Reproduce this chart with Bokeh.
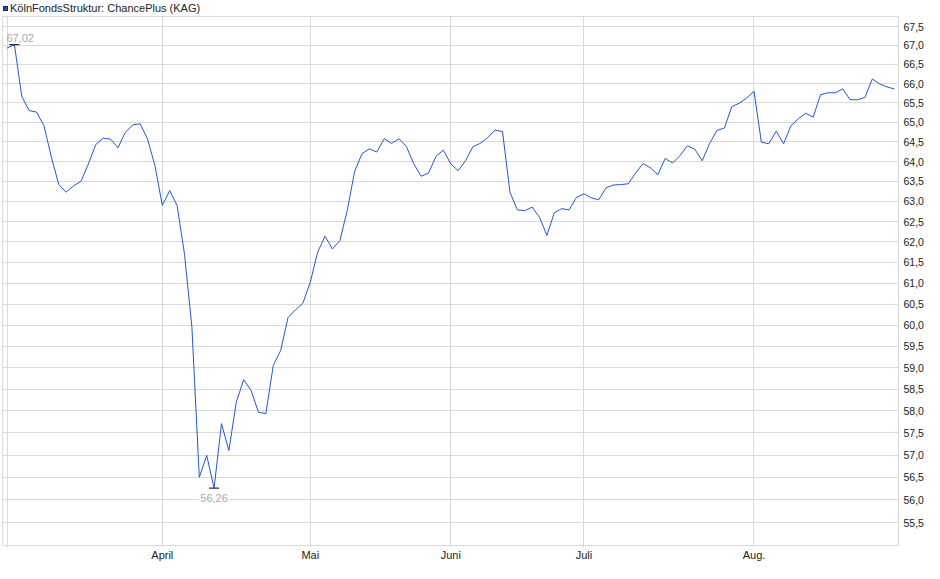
from bokeh.plotting import figure
from bokeh.models import FixedTicker, CustomJSTickFormatter, Label, Range1d, ColumnDataSource, Div
from bokeh.layouts import column
from bokeh.embed import file_html
from bokeh.resources import INLINE

# ---------------- data ----------------
series_name = "KölnFondsStruktur: ChancePlus (KAG)"

price = [
    66.93, 67.02, 65.66, 65.30, 65.26, 64.91, 64.11, 63.42, 63.23, 63.39,
    63.50, 63.94, 64.43, 64.59, 64.57, 64.35, 64.74, 64.93, 64.96, 64.57,
    63.90, 62.90, 63.27, 62.90, 61.70, 59.95, 56.50, 56.99, 56.26, 57.71,
    57.10, 58.20, 58.72, 58.47, 57.97, 57.94, 59.05, 59.40, 60.18, 60.36,
    60.52, 61.02, 61.75, 62.14, 61.83, 62.03, 62.77, 63.75, 64.20, 64.32,
    64.24, 64.58, 64.46, 64.58, 64.38, 63.94, 63.63, 63.71, 64.13, 64.29,
    63.94, 63.77, 64.02, 64.38, 64.46, 64.61, 64.80, 64.76, 63.23, 62.79,
    62.77, 62.86, 62.61, 62.16, 62.72, 62.82, 62.79, 63.10, 63.19, 63.09,
    63.04, 63.34, 63.41, 63.42, 63.44, 63.71, 63.95, 63.84, 63.67, 64.08,
    63.96, 64.15, 64.40, 64.31, 64.02, 64.46, 64.79, 64.85, 65.40, 65.49,
    65.62, 65.80, 64.49, 64.45, 64.77, 64.45, 64.91, 65.09, 65.23, 65.13,
    65.71, 65.76, 65.76, 65.86, 65.58, 65.58, 65.64, 66.12, 65.99, 65.91,
    65.86,
]
day = list(range(len(price)))  # trading-day index

month_ticks = [0, 21, 41, 60, 78, 101]
month_labels = ["", "April", "Mai", "Juni", "Juli", "Aug."]

y_ticks = [55.5, 56.0, 56.5, 57.0, 57.5, 58.0, 58.5, 59.0, 59.5, 60.0, 60.5, 61.0,
           61.5, 62.0, 62.5, 63.0, 63.5, 64.0, 64.5, 65.0, 65.5, 66.0, 66.5, 67.0, 67.5]
y_tick_labels = ["55,5", "56,0", "56,5", "57,0", "57,5", "58,0", "58,5", "59,0", "59,5",
                 "60,0", "60,5", "61,0", "61,5", "62,0", "62,5", "63,0", "63,5", "64,0",
                 "64,5", "65,0", "65,5", "66,0", "66,5", "67,0", "67,5"]

# ---------------- style ----------------
FONT = "Liberation Sans"
LINE_COLOR = "#1f5ac8"
GRID = "#d9d9d9"
W = 935
HEAD_H = 15                      # legend strip above the chart
H = 568 - HEAD_H
FRAME_L, FRAME_T, FRAME_R, FRAME_B = 2, 1, 898, 545 - HEAD_H

# legend strip (square + series name)
head = Div(text=(
    '<div style="font-family:\'Liberation Sans\';font-size:11px;color:#222222;'
    'white-space:nowrap;line-height:12px;padding:1px 0 0 3px;">'
    '<span style="display:inline-block;width:5px;height:5px;background:#1f4fa8;'
    'border:1px solid #0d2a66;margin-right:2px;vertical-align:1px;"></span>'
    f'{series_name}</div>'),
    width=W, height=HEAD_H, margin=0)

src = ColumnDataSource(dict(day=day, price=price))

p = figure(width=W, height=H, output_backend="svg", toolbar_location=None,
           y_axis_type="log", y_axis_location="right",
           x_range=Range1d(-0.61, 120.54), y_range=Range1d(55.0, 67.77),
           min_border_left=FRAME_L, min_border_top=FRAME_T,
           min_border_right=W - FRAME_R, min_border_bottom=H - FRAME_B, margin=0)
p.background_fill_color = "white"
p.border_fill_color = "white"
p.outline_line_color = GRID
p.outline_line_width = 1

# x axis (months)
p.xaxis.ticker = FixedTicker(ticks=month_ticks, minor_ticks=[])
p.xaxis.major_label_overrides = {t: l for t, l in zip(month_ticks, month_labels)}
p.xaxis.axis_line_color = None
p.xaxis.major_tick_line_color = GRID
p.xaxis.major_tick_out = 2
p.xaxis.major_tick_in = 0
p.xaxis.minor_tick_line_color = None
p.xaxis.major_label_standoff = 1
p.xaxis.major_label_text_font = FONT
p.xaxis.major_label_text_font_size = "11px"
p.xaxis.major_label_text_color = "#222222"

# y axis (right, log)
p.yaxis.ticker = FixedTicker(ticks=y_ticks, minor_ticks=[])
p.yaxis.formatter = CustomJSTickFormatter(
    args=dict(yt=y_ticks, yl=y_tick_labels),
    code="const i = yt.findIndex(t => Math.abs(t - tick) < 1e-6); return i >= 0 ? yl[i] : '';")
p.yaxis.axis_line_color = None
p.yaxis.major_tick_line_color = None
p.yaxis.major_tick_out = 0
p.yaxis.major_tick_in = 0
p.yaxis.minor_tick_line_color = None
p.yaxis.major_label_standoff = 5
p.yaxis.major_label_text_font = FONT
p.yaxis.major_label_text_font_size = "10.5px"
p.yaxis.major_label_text_color = "#222222"

p.xgrid.grid_line_color = GRID
p.ygrid.grid_line_color = GRID
p.xgrid.grid_line_width = 1
p.ygrid.grid_line_width = 1

# price line
p.line("day", "price", source=src, line_color=LINE_COLOR, line_width=1)

# extreme markers and labels
i_max = max(range(len(price)), key=lambda i: price[i])
i_min = min(range(len(price)), key=lambda i: price[i])
p_max, p_min = price[i_max], price[i_min]

p.scatter([day[i_max]], [p_max], marker="dash", size=10, line_color="black", line_width=1)
p.scatter([day[i_min]], [p_min], marker="dash", size=10, line_color="black", line_width=1)

p.add_layout(Label(x=day[i_max], y=p_max, text=f"{p_max:.2f}".replace(".", ","),
                   text_align="left", text_baseline="bottom", x_offset=-8, y_offset=3,
                   text_font=FONT, text_font_size="11px", text_color="#a8a8a8"))
p.add_layout(Label(x=day[i_min], y=p_min, text=f"{p_min:.2f}".replace(".", ","),
                   text_align="center", text_baseline="top", y_offset=-5,
                   background_fill_color="white", padding=1,
                   text_font=FONT, text_font_size="11px", text_color="#a8a8a8"))

layout = column(head, p, spacing=0, margin=0)
open("out.html", "w").write(file_html(layout, INLINE))
